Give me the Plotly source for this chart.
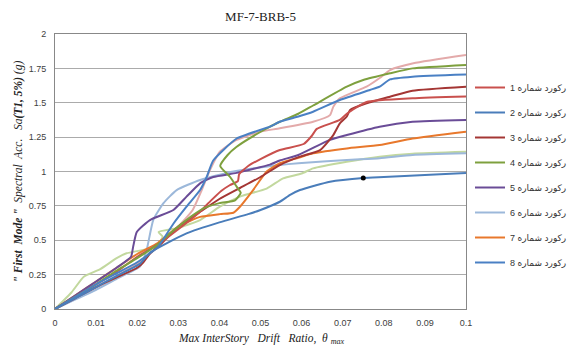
import plotly.graph_objects as go

title_text = "MF-7-BRB-5"
legend_names = ["رکورد شماره %d" % i for i in range(1, 11)]
colors = ["#C9504D", "#4A7DBA", "#A43634", "#7EA03E", "#6A4C97",
          "#9CB8DA", "#E8782C", "#4A80C4", "#E3AAAA", "#C2D89E"]

x1 = [0, 0.005, 0.01, 0.015, 0.02, 0.025, 0.03, 0.035, 0.038, 0.0405, 0.0425, 0.0445, 0.0448, 0.047, 0.05, 0.0547, 0.0605, 0.0625, 0.0637, 0.0693, 0.071, 0.0758, 0.087, 0.1]
y1 = [0, 0.09, 0.18, 0.27, 0.38, 0.47, 0.58, 0.7, 0.79, 0.86, 0.9, 0.93, 0.98, 1.04, 1.09, 1.156, 1.2, 1.26, 1.31, 1.375, 1.42, 1.505, 1.532, 1.545]

x2 = [0, 0.005, 0.01, 0.015, 0.0207, 0.0231, 0.032, 0.04, 0.047, 0.05, 0.0547, 0.0572, 0.0596, 0.0669, 0.075, 0.08, 0.09, 0.1]
y2 = [0, 0.08, 0.16, 0.24, 0.33, 0.41, 0.55, 0.63, 0.69, 0.72, 0.78, 0.83, 0.865, 0.926, 0.953, 0.96, 0.975, 0.99]
marked_index_2 = 14

x3 = [0, 0.005, 0.01, 0.015, 0.02, 0.0215, 0.023, 0.026, 0.03, 0.035, 0.04, 0.045, 0.05, 0.0547, 0.0596, 0.0645, 0.0677, 0.0693, 0.071, 0.0718, 0.0758, 0.0815, 0.087, 0.1]
y3 = [0, 0.08, 0.16, 0.23, 0.3, 0.34, 0.4, 0.48, 0.6, 0.7, 0.8, 0.88, 0.96, 1.047, 1.108, 1.156, 1.265, 1.35, 1.4, 1.447, 1.496, 1.544, 1.588, 1.617]

x4 = [0, 0.005, 0.01, 0.015, 0.02, 0.025, 0.028, 0.033, 0.036, 0.040, 0.0438, 0.0452, 0.0442, 0.0426, 0.0402, 0.042, 0.0442, 0.0507, 0.0547, 0.0592, 0.0628, 0.071, 0.075, 0.0815, 0.087, 0.1]
y4 = [0, 0.09, 0.18, 0.28, 0.37, 0.47, 0.55, 0.67, 0.73, 0.77, 0.79, 0.845, 0.89, 0.96, 1.04, 1.12, 1.18, 1.30, 1.362, 1.42, 1.48, 1.617, 1.665, 1.714, 1.75, 1.775]

x5 = [0, 0.005, 0.01, 0.015, 0.0185, 0.019, 0.0199, 0.0231, 0.0288, 0.032, 0.0353, 0.0385, 0.0442, 0.0523, 0.0547, 0.0592, 0.0669, 0.071, 0.079, 0.087, 0.1]
y5 = [0, 0.1, 0.2, 0.3, 0.38, 0.45, 0.56, 0.647, 0.72, 0.817, 0.914, 0.96, 0.99, 1.05, 1.08, 1.12, 1.23, 1.265, 1.326, 1.362, 1.375]

x6 = [0, 0.005, 0.01, 0.015, 0.0207, 0.0223, 0.0239, 0.0264, 0.0296, 0.0353, 0.0434, 0.0547, 0.0592, 0.071, 0.079, 0.087, 0.1]
y6 = [0, 0.07, 0.14, 0.22, 0.31, 0.43, 0.647, 0.77, 0.865, 0.938, 1.0, 1.047, 1.06, 1.084, 1.096, 1.12, 1.132]

x7 = [0, 0.005, 0.01, 0.015, 0.02, 0.025, 0.03, 0.0328, 0.0353, 0.0401, 0.0434, 0.045, 0.0482, 0.0515, 0.0547, 0.0592, 0.0628, 0.071, 0.079, 0.087, 0.1]
y7 = [0, 0.1, 0.2, 0.3, 0.4, 0.48, 0.6, 0.64, 0.67, 0.69, 0.70, 0.744, 0.865, 1.0, 1.06, 1.1, 1.132, 1.168, 1.193, 1.24, 1.29]

x8 = [0, 0.005, 0.01, 0.015, 0.02, 0.025, 0.0288, 0.032, 0.0353, 0.0369, 0.0385, 0.0442, 0.0523, 0.0547, 0.0592, 0.0628, 0.0693, 0.0766, 0.079, 0.0815, 0.087, 0.1]
y8 = [0, 0.09, 0.18, 0.26, 0.34, 0.45, 0.62, 0.744, 0.865, 0.96, 1.08, 1.24, 1.326, 1.362, 1.40, 1.435, 1.52, 1.593, 1.617, 1.67, 1.69, 1.705]

x9 = [0, 0.005, 0.01, 0.015, 0.02, 0.025, 0.03, 0.0335, 0.0357, 0.0377, 0.0401, 0.0442, 0.0499, 0.0547, 0.0628, 0.0669, 0.0677, 0.0693, 0.0758, 0.079, 0.0815, 0.0872, 0.1]
y9 = [0, 0.08, 0.16, 0.24, 0.33, 0.45, 0.6, 0.72, 0.865, 1.01, 1.144, 1.23, 1.29, 1.314, 1.362, 1.41, 1.47, 1.532, 1.617, 1.68, 1.738, 1.787, 1.847]

x10 = [0, 0.004, 0.007, 0.011, 0.015, 0.0174, 0.0245, 0.0262, 0.0252, 0.0296, 0.0353, 0.0401, 0.045, 0.0515, 0.0555, 0.06, 0.0628, 0.071, 0.079, 0.087, 0.1]
y10 = [0, 0.12, 0.235, 0.29, 0.37, 0.405, 0.453, 0.526, 0.56, 0.587, 0.647, 0.744, 0.817, 0.876, 0.95, 0.985, 1.023, 1.071, 1.108, 1.13, 1.144]

xs = [x1, x2, x3, x4, x5, x6, x7, x8, x9, x10]
ys = [y1, y2, y3, y4, y5, y6, y7, y8, y9, y10]
in_legend = [True] * 8 + [False, False]

fig = go.Figure()
order = [9, 8, 5, 6, 4, 2, 0, 3, 7, 1]
for i in order:
    fig.add_trace(go.Scatter(
        x=xs[i], y=ys[i], name=legend_names[i], mode="lines",
        line=dict(color=colors[i], width=2, shape="spline", smoothing=0.5),
        showlegend=in_legend[i], legendrank=i + 1, legendgroup="g%d" % i))

fig.add_trace(go.Scatter(
    x=[x2[marked_index_2]], y=[y2[marked_index_2]], mode="markers",
    marker=dict(size=5, color="black"), showlegend=False, hoverinfo="skip"))

fig.update_layout(
    width=572, height=351,
    margin=dict(l=55, r=106, t=34, b=42, autoexpand=False),
    paper_bgcolor="white", plot_bgcolor="white",
    font=dict(family="Liberation Sans, DejaVu Sans, sans-serif", size=9, color="#404040"),
    title=dict(text=title_text, x=(55 + 466) / 2 / 572, xanchor="center",
               y=1 - 16 / 351, yanchor="middle",
               font=dict(family="Liberation Serif, serif", size=13, color="#222")),
    xaxis=dict(range=[0, 0.1], dtick=0.01, showgrid=False, zeroline=False,
               showline=True, linecolor="#888", mirror=True, linewidth=1,
               ticks="", ticklabelstandoff=5, tickfont=dict(size=9, color="#404040")),
    yaxis=dict(range=[0, 2], dtick=0.25, showgrid=True, gridcolor="#ABABAB", gridwidth=1,
               zeroline=False, showline=True, linecolor="#888", mirror=True, linewidth=1,
               ticks="", ticklabelstandoff=6, tickfont=dict(size=9, color="#404040")),
    legend=dict(xref="container", yref="container", x=470 / 572, xanchor="left",
                y=1 - 73 / 351, yanchor="top", maxheight=260,
                traceorder="grouped", tracegroupgap=6, itemwidth=30,
                font=dict(size=9, color="#333"), bgcolor="rgba(0,0,0,0)"),
    annotations=[
        dict(text='<b><i>" First  Mode "</i></b><i>  Spectral  Acc.   Sa</i><b><i>(T1, 5%)</i></b><i> (g)</i>',
             xref="paper", yref="paper", x=-37 / 411, y=0.5, textangle=-90,
             xanchor="center", yanchor="middle", showarrow=False,
             font=dict(family="Liberation Serif, serif", size=11.5, color="#222")),
        dict(text='<i>Max InterStory   Drift   Ratio,  θ <sub>max</sub></i>',
             xref="paper", yref="paper", x=0.5, y=-30 / 275,
             xanchor="center", yanchor="middle", showarrow=False,
             font=dict(family="Liberation Serif, serif", size=11.5, color="#222")),
    ],
)

fig.write_html("out.html")
